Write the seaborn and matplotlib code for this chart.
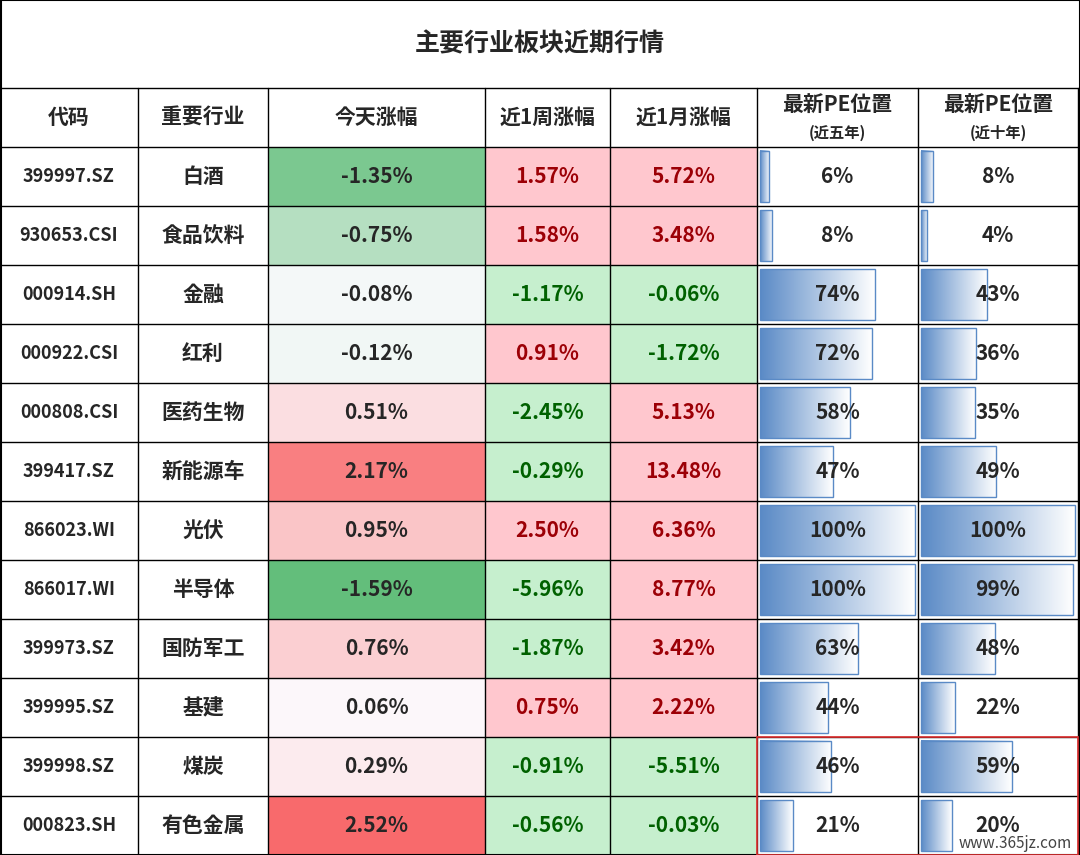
import numpy as np
import matplotlib.pyplot as plt
import matplotlib.colors as mcolors
from matplotlib.patches import Rectangle
import seaborn as sns

sns.set_theme(style="white")
plt.rcParams["font.family"] = ["Noto Sans CJK SC", "Noto Sans CJK JP", "Noto Sans CJK TC",
                               "Noto Sans CJK KR", "DejaVu Sans"]

title = "主要行业板块近期行情"
codes = ["399997.SZ", "930653.CSI", "000914.SH", "000922.CSI", "000808.CSI", "399417.SZ",
         "866023.WI", "866017.WI", "399973.SZ", "399995.SZ", "399998.SZ", "000823.SH"]
industries = ["白酒", "食品饮料", "金融", "红利", "医药生物", "新能源车",
              "光伏", "半导体", "国防军工", "基建", "煤炭", "有色金属"]
today = [-1.35, -0.75, -0.08, -0.12, 0.51, 2.17, 0.95, -1.59, 0.76, 0.06, 0.29, 2.52]
week = [1.57, 1.58, -1.17, 0.91, -2.45, -0.29, 2.50, -5.96, -1.87, 0.75, -0.91, -0.56]
month = [5.72, 3.48, -0.06, -1.72, 5.13, 13.48, 6.36, 8.77, 3.42, 2.22, -5.51, -0.03]
pe5 = [6, 8, 74, 72, 58, 47, 100, 100, 63, 44, 46, 21]
pe10 = [8, 4, 43, 36, 35, 49, 100, 99, 48, 22, 59, 20]

col_x = [0, 138, 268, 485, 610, 757, 918, 1078]
title_h, head_h, row_h = 88, 59, 59
W, H = 1080, 855

fig = plt.figure(figsize=(10.8, 8.55), dpi=100)
ax = fig.add_axes([0, 0, 1, 1])
ax.set_xlim(0, W)
ax.set_ylim(H, 0)
ax.axis("off")

cmap_today = mcolors.LinearSegmentedColormap.from_list(
    "today", sns.blend_palette(["#63be7b", "#fcfcff", "#f8696b"], 3))
norm_today = mcolors.TwoSlopeNorm(vmin=-1.6, vcenter=0.0, vmax=2.55)
bar_cmap = mcolors.LinearSegmentedColormap.from_list("bar", ["#5a8ac6", "#ffffff"])
grad = np.linspace(0, 1, 256).reshape(1, -1)

fs = 15
ax.text(W / 2, title_h / 2, title, ha="center", va="center", fontsize=18, fontweight="bold")
heads = ["代码", "重要行业", "今天涨幅", "近1周涨幅", "近1月涨幅"]
for i, h in enumerate(heads):
    ax.text((col_x[i] + col_x[i + 1]) / 2, title_h + head_h / 2, h, ha="center", va="center",
            fontsize=fs, fontweight="bold")
for i, sub in [(5, "(近五年)"), (6, "(近十年)")]:
    cx = (col_x[i] + col_x[i + 1]) / 2
    ax.text(cx, title_h + 17, "最新PE位置", ha="center", va="center", fontsize=fs, fontweight="bold")
    ax.text(cx, title_h + 45, sub, ha="center", va="center", fontsize=11, fontweight="bold")

y0 = title_h + head_h
for r in range(len(codes)):
    top = y0 + r * row_h
    cy = top + row_h / 2
    ax.add_patch(Rectangle((col_x[2], top), col_x[3] - col_x[2], row_h,
                           color=cmap_today(norm_today(today[r])), lw=0))
    for c, vals in [(3, week), (4, month)]:
        v = vals[r]
        bg, fg = ("#ffc7ce", "#9c0006") if v > 0 else ("#c6efce", "#006100")
        ax.add_patch(Rectangle((col_x[c], top), col_x[c + 1] - col_x[c], row_h, color=bg, lw=0))
        ax.text((col_x[c] + col_x[c + 1]) / 2, cy, f"{v:.2f}%", ha="center", va="center",
                fontsize=fs, color=fg, fontweight="bold")
    ax.text((col_x[0] + col_x[1]) / 2, cy, codes[r], ha="center", va="center", fontsize=13, fontweight="bold")
    ax.text((col_x[1] + col_x[2]) / 2, cy, industries[r], ha="center", va="center", fontsize=fs, fontweight="bold")
    ax.text((col_x[2] + col_x[3]) / 2, cy, f"{today[r]:.2f}%", ha="center", va="center",
            fontsize=fs, fontweight="bold")
    for c, vals in [(5, pe5), (6, pe10)]:
        x0 = col_x[c] + 3
        bw = (col_x[c + 1] - col_x[c] - 6) * vals[r] / 100
        ax.imshow(grad, cmap=bar_cmap, aspect="auto", extent=(x0, x0 + bw, top + row_h - 4, top + 4), zorder=2)
        ax.add_patch(Rectangle((x0, top + 4), bw, row_h - 8, fill=False, ec="#5a8ac6", lw=1, zorder=3))
        ax.text((col_x[c] + col_x[c + 1]) / 2, cy, f"{vals[r]}%", ha="center", va="center",
                fontsize=fs, fontweight="bold", zorder=4)

# grid lines
bottom = y0 + len(codes) * row_h
ax.plot([0, W], [title_h, title_h], color="black", lw=1)
for r in range(len(codes) + 1):
    ax.plot([0, W], [y0 + r * row_h] * 2, color="black", lw=1, zorder=5)
for x in col_x:
    ax.plot([x, x], [title_h, bottom], color="black", lw=1, zorder=5)
ax.add_patch(Rectangle((0.5, 0.5), W - 1, bottom - 0.5, fill=False, ec="black", lw=1.5, zorder=5))
ax.add_patch(Rectangle((col_x[5], y0 + 10 * row_h), W - col_x[5] - 2, 2 * row_h,
                       fill=False, ec="#e03030", lw=1.2, zorder=6))
ax.text(W - 8, H - 12, "www.365jz.com", ha="right", va="center", fontsize=11, color="#444444",
        zorder=7, bbox=dict(fc="white", ec="none", alpha=0.7, pad=1))

fig.savefig("out.png", dpi=100)
